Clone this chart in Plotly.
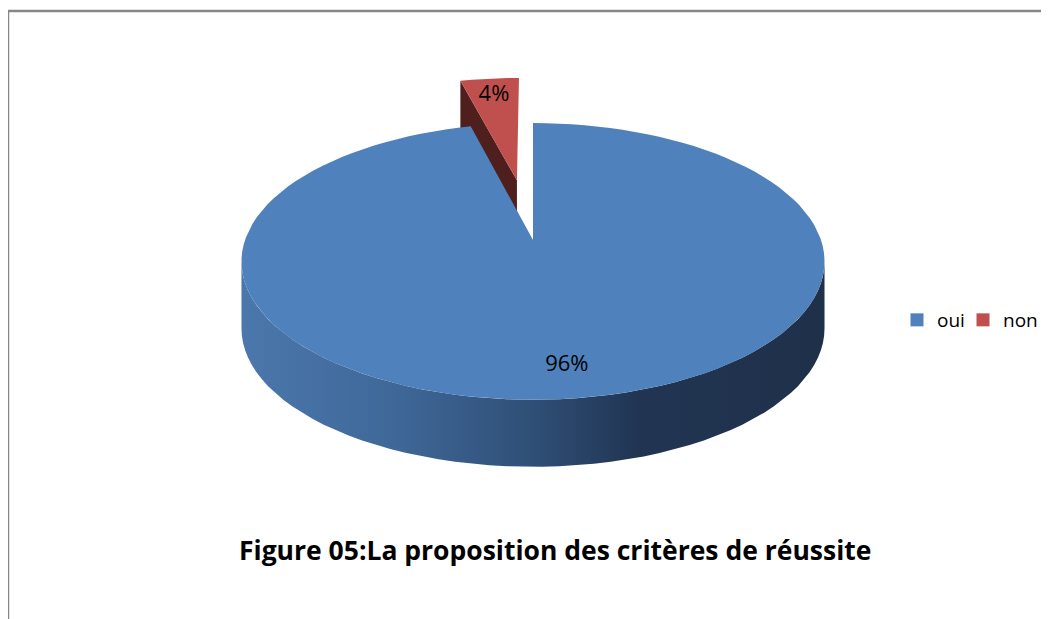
#######################################################
# plotly
import math
import plotly.graph_objects as go

#######################################################
# data
labels = ['oui', 'non']
values = [96, 4]
top_colors = ['#4f81bd', '#c0504d']
cut_colors = ['#2c4a6e', '#4f1f1e']
explode = [0.0, 0.478]
title_text = 'Figure 05:La proposition des critères de réussite'

#######################################################
# page body has an 8px margin -> figure is 8px smaller, axes shifted by 8
W, H, OFF = 1049, 619, 8

# 3D pie geometry (page pixel units)
CX, CY = 533, 240        # centre of the top face
A, B = 288, 135          # radii of the top face
K = 0.155                # perspective
DEPTH = 67               # thickness of the pie
N = 120


def proj(u, v, down=0.0):
    s = 1.0 / (1.0 + K * v)
    return CX + A * u * s, CY - B * v * s + DEPTH * down


def arc(t0, t1, ox, oy, down=0.0):
    n = max(2, int(N * (t1 - t0) / 360) + 2)
    xs, ys = [], []
    for i in range(n):
        t = math.radians(t0 + (t1 - t0) * i / (n - 1))
        x, y = proj(ox + math.sin(t), oy + math.cos(t), down)
        xs.append(x)
        ys.append(y)
    return xs, ys


total = sum(values)
angles = [0]
for v in values:
    angles.append(angles[-1] + 360 * v / total)

# visible part of the outer wall (front)
vis0 = 90 + math.degrees(math.asin(K))
vis1 = 270 - math.degrees(math.asin(K))

fig = go.Figure()

# draw back slice first
order = sorted(range(len(values)), key=lambda i: -abs(180 - (angles[i] + angles[i + 1]) / 2))

for i in order:
    t0, t1 = angles[i], angles[i + 1]
    mid = math.radians((t0 + t1) / 2)
    ox, oy = explode[i] * math.sin(mid), explode[i] * math.cos(mid)

    # cut face on the left edge of the slice (seen when slice is in the back)
    if explode[i] > 0:
        ex, ey = ox + math.sin(math.radians(t0)), oy + math.cos(math.radians(t0))
        p = [proj(ox, oy), proj(ex, ey), proj(ex, ey, 1), proj(ox, oy, 1)]
        fig.add_trace(go.Scatter(x=[q[0] for q in p] + [p[0][0]],
                                 y=[q[1] for q in p] + [p[0][1]],
                                 fill='toself', fillcolor=cut_colors[i],
                                 mode='lines', line_width=0,
                                 hoverinfo='skip', showlegend=False))

    # outer wall
    w0, w1 = max(t0, vis0), min(t1, vis1)
    if w1 > w0:
        tx, ty = arc(w0, w1, ox, oy)
        bx, by = arc(w0, w1, ox, oy, 1)
        fig.add_trace(go.Scatter(x=tx + bx[::-1] + [tx[0]],
                                 y=ty + by[::-1] + [ty[0]],
                                 fill='toself',
                                 fillgradient=dict(type='horizontal',
                                                   colorscale=[[0, '#4b77ac'], [0.25, '#40699a'],
                                                               [0.5, '#2f4f76'], [0.68, '#213553'],
                                                               [1, '#1f3049']]),
                                 mode='lines', line_width=0,
                                 hoverinfo='skip', showlegend=False))

    # top face
    cx0, cy0 = proj(ox, oy)
    ax, ay = arc(t0, t1, ox, oy)
    fig.add_trace(go.Scatter(x=[cx0] + ax + [cx0], y=[cy0] + ay + [cy0],
                             fill='toself', fillcolor=top_colors[i],
                             mode='lines', line_width=0,
                             hoverinfo='skip', showlegend=False))

# percent labels
for i in range(len(values)):
    mid = math.radians((angles[i] + angles[i + 1]) / 2)
    r = explode[i] + 0.82
    lx, ly = proj(r * math.sin(mid), r * math.cos(mid))
    fig.add_trace(go.Scatter(x=[lx], y=[ly], mode='text',
                             text=[f'{round(100 * values[i] / total)}%'],
                             textfont=dict(family='Open Sans', size=22, color='black'),
                             hoverinfo='skip', showlegend=False))

# legend entries: one legend box per entry so the spacing can be set
legend_names = ['legend', 'legend2']
legend_x = [889, 955]
for i in range(len(values)):
    fig.add_trace(go.Scatter(x=[None], y=[None], mode='markers', name=labels[i],
                             legend=legend_names[i],
                             marker=dict(symbol='square', size=13, color=top_colors[i])))

# chart border (right and bottom are outside the picture)
fig.add_shape(type='rect', x0=8, y0=11, x1=1200, y1=800,
              line=dict(color='#878787', width=2.5), layer='above')

fig.add_annotation(x=554.5, y=550, text=f'<b>{title_text}</b>', showarrow=False,
                   font=dict(family='Open Sans', size=26.5, color='black'))

legend_style = dict(orientation='h', y=1 - (320 - OFF) / (H - OFF), yanchor='middle',
                    font=dict(family='Open Sans', size=19, color='black'),
                    bgcolor='rgba(0,0,0,0)')

fig.update_layout(width=W - OFF, height=H - OFF,
                  margin=dict(l=0, r=0, t=0, b=0, autoexpand=False),
                  paper_bgcolor='white', plot_bgcolor='white',
                  xaxis=dict(range=[OFF, W], visible=False, fixedrange=True),
                  yaxis=dict(range=[H, OFF], visible=False, fixedrange=True),
                  legend=dict(x=legend_x[0] / (W - OFF), **legend_style),
                  legend2=dict(x=legend_x[1] / (W - OFF), **legend_style),
                  showlegend=True)

fig.write_html('out.html')
